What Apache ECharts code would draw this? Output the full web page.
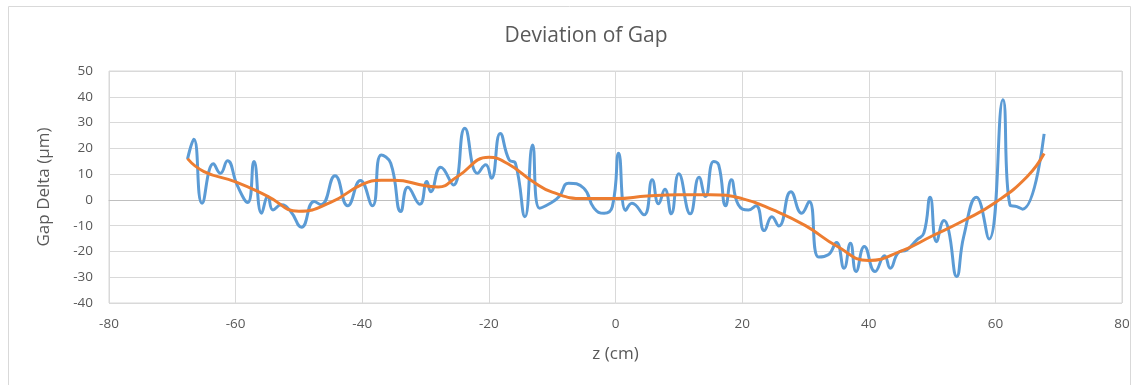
<!DOCTYPE html>
<html>
<head>
<meta charset="utf-8">
<script src="https://cdn.jsdelivr.net/npm/echarts@6/dist/echarts.min.js"></script>
<style>
html,body{margin:0;padding:0;background:#fff;overflow:hidden;}
#chart{position:absolute;left:0;top:0;width:1135px;height:385px;}
</style>
</head>
<body>
<div id="chart"></div>
<script>
const chartTitle = "Deviation of Gap";
const xAxisName = "z (cm)";
const yAxisName = "Gap Delta (µm)";

const blueX = [-67.6,-66.6,-65.3,-63.5,-62.4,-61.3,-59.7,-58.1,-57.1,-55.9,-54.9,-54.1,-52.8,-51.3,-49.6,-47.6,-46.5,-44.3,-42.3,-40.3,-38.4,-37.0,-35.5,-33.9,-32.8,-30.9,-29.8,-29.2,-27.6,-25.6,-23.8,-21.8,-20.5,-19.6,-18.2,-16.8,-15.8,-14.3,-13.1,-12.0,-10.3,-8.9,-7.4,-5.0,-3.4,-1.8,-0.5,0.5,1.6,2.6,4.5,5.8,6.8,7.8,8.8,10.0,11.8,13.2,14.2,15.5,16.3,17.4,18.3,19.4,21.0,22.2,23.5,24.7,25.8,27.7,29.4,30.6,32.1,33.6,34.9,36.1,37.1,38.0,39.3,41.0,42.5,43.4,44.7,46.0,47.6,48.7,49.7,50.7,51.9,52.6,53.9,55.0,57.0,59.0,61.2,62.3,63.4,64.3,67.7];
const blueY = [15.8,23.5,-1.3,14.0,10.3,15.2,5.4,-1.0,14.9,-5.2,1.3,-3.9,-1.9,-4.5,-10.6,-0.6,-1.9,9.4,-2.3,7.5,-2.3,17.4,14.2,-4.5,4.9,-1.7,7.1,3.2,12.7,5.8,27.8,10.3,13.6,8.4,25.8,15.5,14.2,-6.5,21.3,-3.2,-1.3,1.3,6.5,4.5,-3.2,-5.2,-2.6,18.1,-4.1,-1.3,-5.8,7.8,-1.5,4.1,-5.4,10.1,-5.4,8.8,1.3,14.9,13.6,-2.3,7.8,-1.9,-3.9,-2.3,-11.9,-6.5,-10.1,3.2,-5.2,-0.6,-22.2,-21.3,-16.5,-26.5,-16.8,-27.8,-18.1,-27.8,-21.7,-26.5,-20.4,-19.4,-15.5,-12.9,1.0,-16.2,-8.0,-11.6,-29.7,-14.2,1.0,-15.2,38.8,-1.9,-2.6,-3.6,25.6];

const orangeX = [-67.6,-65,-60,-55,-50,-45,-40,-37,-35,-30,-28,-25,-20,-17,-13,-10,-5,0,5,10,15,20,25,30,35,40,45,50,55,60,65,67.7];
const orangeY = [16,11,7,1.5,-4.4,-1,6,7.6,7.6,5.5,5,9,16.5,14,7,3,0.5,0.5,1.5,2,2,0.5,-4,-10,-18,-23.5,-20,-14,-8,-1,9,18];

const zip = (xs, ys) => xs.map((x, i) => [x, ys[i]]);

const chart = echarts.init(document.getElementById('chart'));
const txt = '#595959';
const font = 'Open Sans';
chart.setOption({
  animation: false,
  graphic: [{
    type: 'rect', left: 6, top: 4, silent: true, z: -10,
    shape: {width: 1122, height: 400},
    style: {fill: 'none', stroke: '#d9d9d9', lineWidth: 1}
  }],
  title: {
    text: chartTitle, left: 581, top: 21, textAlign: 'center',
    textStyle: {fontFamily: font, fontSize: 21, fontWeight: 'normal', color: txt}
  },
  grid: {left: 109, right: 13, top: 71, bottom: 82, show: true, borderColor: '#d9d9d9', borderWidth: 1},
  xAxis: {
    type: 'value', min: -80, max: 80, interval: 20,
    name: xAxisName, nameLocation: 'middle', nameGap: 43,
    nameTextStyle: {fontFamily: font, fontSize: 17, color: txt},
    axisLine: {show: true, lineStyle: {color: '#bfbfbf'}},
    axisTick: {show: false},
    axisLabel: {fontFamily: font, fontSize: 13.5, color: txt, margin: 14},
    splitLine: {show: true, lineStyle: {color: '#d9d9d9'}}
  },
  yAxis: {
    type: 'value', min: -40, max: 50, interval: 10,
    name: yAxisName, nameLocation: 'middle', nameGap: 56,
    nameTextStyle: {fontFamily: font, fontSize: 17, color: txt},
    axisLine: {show: false}, axisTick: {show: false},
    axisLabel: {fontFamily: font, fontSize: 13.5, color: txt, margin: 16},
    splitLine: {show: true, lineStyle: {color: '#d9d9d9'}}
  },
  series: [
    {type: 'line', data: zip(blueX, blueY), smooth: 0.5, showSymbol: false,
     lineStyle: {color: '#5b9bd5', width: 3}, z: 2},
    {type: 'line', data: zip(orangeX, orangeY), smooth: 0.5, showSymbol: false,
     lineStyle: {color: '#ed7d31', width: 3}, z: 3}
  ]
});
</script>
</body>
</html>
